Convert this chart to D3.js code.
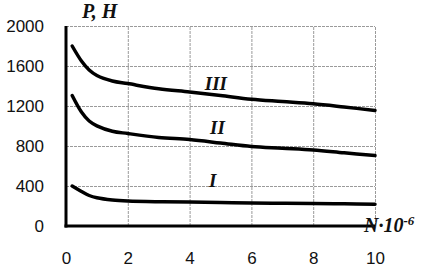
<!DOCTYPE html>
<html>
<head>
<meta charset="utf-8">
<script src="https://cdn.jsdelivr.net/npm/d3@7"></script>
<style>
  body { margin: 0; background: #fff; }
  .grid line { stroke: #9a9a9a; stroke-width: 1; stroke-dasharray: 3,1; }
  .tick text { font-family: "Liberation Sans", Arial, sans-serif; font-size: 17px; fill: #111; }
  .lbl { font-family: "Liberation Serif", "Times New Roman", serif; font-style: italic; font-weight: bold; fill: #111; }
</style>
</head>
<body>
<div id="chart"></div>
<script>
// cycles N·10^-6 and load P (H)
const cycles = [0.2, 0.5, 0.75, 1, 1.5, 2, 3, 4, 5, 6, 7, 8, 9, 10];
const seriesIII = [1800, 1650, 1560, 1505, 1450, 1424, 1372, 1340, 1305, 1268, 1245, 1222, 1190, 1156];
const seriesII = [1305, 1140, 1050, 1002, 948, 925, 886, 864, 830, 795, 778, 761, 732, 704];
const seriesI = [400, 345, 305, 282, 260, 250, 243, 240, 235, 229, 228, 226, 222, 218];
const seriesNames = ['III', 'II', 'I'];
const xTicks = [0, 2, 4, 6, 8, 10];
const yTicks = [0, 400, 800, 1200, 1600, 2000];

const W = 428, H = 272;
const margin = { top: 26, right: 53, bottom: 46, left: 66 };

const svg = d3.select('#chart').append('svg')
    .attr('width', W)
    .attr('height', H);

const x = d3.scaleLinear().domain([0, 10]).range([margin.left, W - margin.right]);
const y = d3.scaleLinear().domain([0, 2000]).range([H - margin.bottom, margin.top]);

// grid + tick labels
svg.append('g')
    .attr('class', 'grid')
    .attr('transform', `translate(${margin.left},0)`)
    .call(d3.axisLeft(y).tickValues(yTicks).tickFormat(d3.format('d'))
        .tickSize(-(x(10) - x(0))).tickPadding(22))
    .call(g => g.select('.domain').remove());

svg.append('g')
    .attr('class', 'grid')
    .attr('transform', `translate(0,${y(0)})`)
    .call(d3.axisBottom(x).tickValues(xTicks).tickFormat(d3.format('d'))
        .tickSize(-(y(0) - y(2000))).tickPadding(26))
    .call(g => g.select('.domain').remove());

// axis lines
svg.append('line')
    .attr('x1', x(0)).attr('x2', x(0))
    .attr('y1', y(2000)).attr('y2', y(0) + 1.5)
    .attr('stroke', '#000').attr('stroke-width', 3);
svg.append('line')
    .attr('x1', x(0) - 1.5).attr('x2', x(10))
    .attr('y1', y(0)).attr('y2', y(0))
    .attr('stroke', '#000').attr('stroke-width', 3);

// curves
const line = d3.line()
    .x((d, i) => x(cycles[i]))
    .y(d => y(d))
    .curve(d3.curveCatmullRom.alpha(0.5));

[seriesIII, seriesII, seriesI].forEach(s => {
    svg.append('path')
        .datum(s)
        .attr('fill', 'none')
        .attr('stroke', '#000')
        .attr('stroke-width', 3.5)
        .attr('stroke-linecap', 'round')
        .attr('d', line);
});

// curve labels
const labelPos = [[4.85, 90], [4.9, 134], [4.75, 187]];
seriesNames.forEach((name, i) => {
    svg.append('text')
        .attr('class', 'lbl')
        .attr('x', x(labelPos[i][0]))
        .attr('y', labelPos[i][1])
        .attr('text-anchor', 'middle')
        .style('font-size', '19px')
        .text(name);
});

// axis titles
svg.append('text')
    .attr('class', 'lbl')
    .attr('x', 82)
    .attr('y', 18)
    .style('font-size', '20px')
    .text('P, H');

const nt = svg.append('text')
    .attr('class', 'lbl')
    .attr('x', 364)
    .attr('y', 232)
    .style('font-size', '20px');
nt.append('tspan').text('N·10');
nt.append('tspan').attr('dy', -7).style('font-size', '13px').text('-6');
</script>
</body>
</html>
